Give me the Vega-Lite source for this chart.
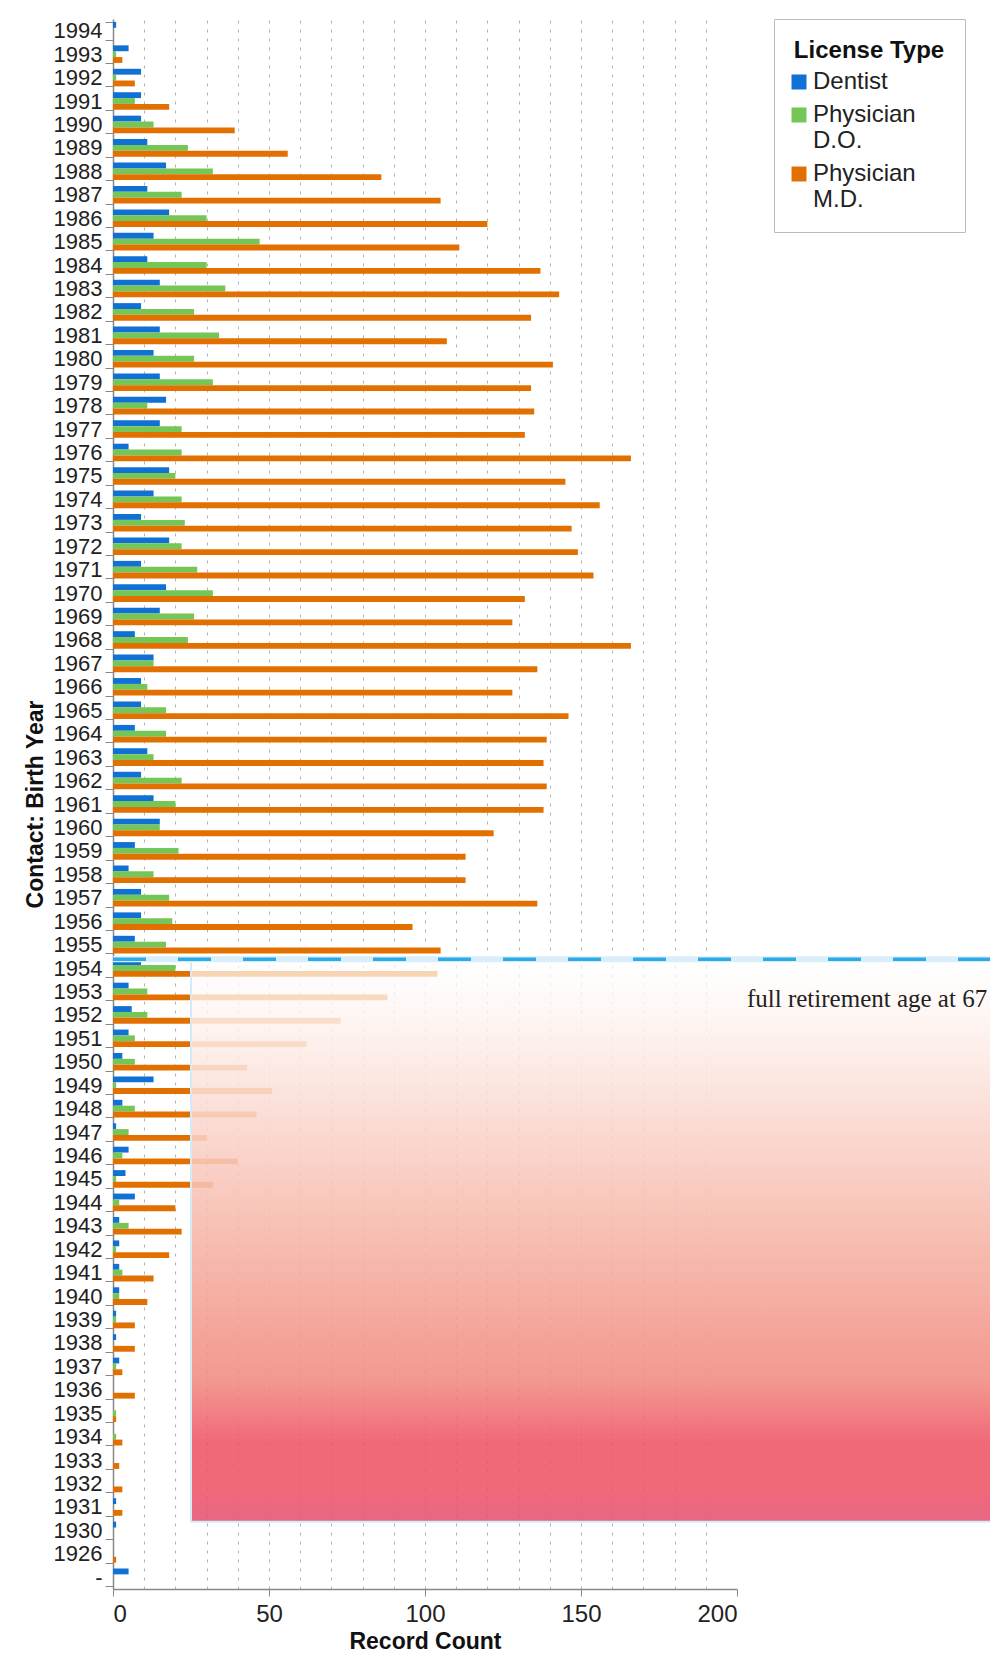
{
  "$schema": "https://vega.github.io/schema/vega-lite/v6.json",
  "autosize": {"type": "none"},
  "width": 624,
  "height": 1570,
  "padding": {"left": 113, "top": 19, "right": 253, "bottom": 73},
  "background": "white",
  "config": {"font": "Liberation Sans", "view": {"stroke": null}},
  "datasets": {
    "counts": [
      {"year":"1994","type":"Dentist","n":1},
      {"year":"1993","type":"Dentist","n":5},{"year":"1993","type":"Physician D.O.","n":1},{"year":"1993","type":"Physician M.D.","n":3},
      {"year":"1992","type":"Dentist","n":9},{"year":"1992","type":"Physician D.O.","n":1},{"year":"1992","type":"Physician M.D.","n":7},
      {"year":"1991","type":"Dentist","n":9},{"year":"1991","type":"Physician D.O.","n":7},{"year":"1991","type":"Physician M.D.","n":18},
      {"year":"1990","type":"Dentist","n":9},{"year":"1990","type":"Physician D.O.","n":13},{"year":"1990","type":"Physician M.D.","n":39},
      {"year":"1989","type":"Dentist","n":11},{"year":"1989","type":"Physician D.O.","n":24},{"year":"1989","type":"Physician M.D.","n":56},
      {"year":"1988","type":"Dentist","n":17},{"year":"1988","type":"Physician D.O.","n":32},{"year":"1988","type":"Physician M.D.","n":86},
      {"year":"1987","type":"Dentist","n":11},{"year":"1987","type":"Physician D.O.","n":22},{"year":"1987","type":"Physician M.D.","n":105},
      {"year":"1986","type":"Dentist","n":18},{"year":"1986","type":"Physician D.O.","n":30},{"year":"1986","type":"Physician M.D.","n":120},
      {"year":"1985","type":"Dentist","n":13},{"year":"1985","type":"Physician D.O.","n":47},{"year":"1985","type":"Physician M.D.","n":111},
      {"year":"1984","type":"Dentist","n":11},{"year":"1984","type":"Physician D.O.","n":30},{"year":"1984","type":"Physician M.D.","n":137},
      {"year":"1983","type":"Dentist","n":15},{"year":"1983","type":"Physician D.O.","n":36},{"year":"1983","type":"Physician M.D.","n":143},
      {"year":"1982","type":"Dentist","n":9},{"year":"1982","type":"Physician D.O.","n":26},{"year":"1982","type":"Physician M.D.","n":134},
      {"year":"1981","type":"Dentist","n":15},{"year":"1981","type":"Physician D.O.","n":34},{"year":"1981","type":"Physician M.D.","n":107},
      {"year":"1980","type":"Dentist","n":13},{"year":"1980","type":"Physician D.O.","n":26},{"year":"1980","type":"Physician M.D.","n":141},
      {"year":"1979","type":"Dentist","n":15},{"year":"1979","type":"Physician D.O.","n":32},{"year":"1979","type":"Physician M.D.","n":134},
      {"year":"1978","type":"Dentist","n":17},{"year":"1978","type":"Physician D.O.","n":11},{"year":"1978","type":"Physician M.D.","n":135},
      {"year":"1977","type":"Dentist","n":15},{"year":"1977","type":"Physician D.O.","n":22},{"year":"1977","type":"Physician M.D.","n":132},
      {"year":"1976","type":"Dentist","n":5},{"year":"1976","type":"Physician D.O.","n":22},{"year":"1976","type":"Physician M.D.","n":166},
      {"year":"1975","type":"Dentist","n":18},{"year":"1975","type":"Physician D.O.","n":20},{"year":"1975","type":"Physician M.D.","n":145},
      {"year":"1974","type":"Dentist","n":13},{"year":"1974","type":"Physician D.O.","n":22},{"year":"1974","type":"Physician M.D.","n":156},
      {"year":"1973","type":"Dentist","n":9},{"year":"1973","type":"Physician D.O.","n":23},{"year":"1973","type":"Physician M.D.","n":147},
      {"year":"1972","type":"Dentist","n":18},{"year":"1972","type":"Physician D.O.","n":22},{"year":"1972","type":"Physician M.D.","n":149},
      {"year":"1971","type":"Dentist","n":9},{"year":"1971","type":"Physician D.O.","n":27},{"year":"1971","type":"Physician M.D.","n":154},
      {"year":"1970","type":"Dentist","n":17},{"year":"1970","type":"Physician D.O.","n":32},{"year":"1970","type":"Physician M.D.","n":132},
      {"year":"1969","type":"Dentist","n":15},{"year":"1969","type":"Physician D.O.","n":26},{"year":"1969","type":"Physician M.D.","n":128},
      {"year":"1968","type":"Dentist","n":7},{"year":"1968","type":"Physician D.O.","n":24},{"year":"1968","type":"Physician M.D.","n":166},
      {"year":"1967","type":"Dentist","n":13},{"year":"1967","type":"Physician D.O.","n":13},{"year":"1967","type":"Physician M.D.","n":136},
      {"year":"1966","type":"Dentist","n":9},{"year":"1966","type":"Physician D.O.","n":11},{"year":"1966","type":"Physician M.D.","n":128},
      {"year":"1965","type":"Dentist","n":9},{"year":"1965","type":"Physician D.O.","n":17},{"year":"1965","type":"Physician M.D.","n":146},
      {"year":"1964","type":"Dentist","n":7},{"year":"1964","type":"Physician D.O.","n":17},{"year":"1964","type":"Physician M.D.","n":139},
      {"year":"1963","type":"Dentist","n":11},{"year":"1963","type":"Physician D.O.","n":13},{"year":"1963","type":"Physician M.D.","n":138},
      {"year":"1962","type":"Dentist","n":9},{"year":"1962","type":"Physician D.O.","n":22},{"year":"1962","type":"Physician M.D.","n":139},
      {"year":"1961","type":"Dentist","n":13},{"year":"1961","type":"Physician D.O.","n":20},{"year":"1961","type":"Physician M.D.","n":138},
      {"year":"1960","type":"Dentist","n":15},{"year":"1960","type":"Physician D.O.","n":15},{"year":"1960","type":"Physician M.D.","n":122},
      {"year":"1959","type":"Dentist","n":7},{"year":"1959","type":"Physician D.O.","n":21},{"year":"1959","type":"Physician M.D.","n":113},
      {"year":"1958","type":"Dentist","n":5},{"year":"1958","type":"Physician D.O.","n":13},{"year":"1958","type":"Physician M.D.","n":113},
      {"year":"1957","type":"Dentist","n":9},{"year":"1957","type":"Physician D.O.","n":18},{"year":"1957","type":"Physician M.D.","n":136},
      {"year":"1956","type":"Dentist","n":9},{"year":"1956","type":"Physician D.O.","n":19},{"year":"1956","type":"Physician M.D.","n":96},
      {"year":"1955","type":"Dentist","n":7},{"year":"1955","type":"Physician D.O.","n":17},{"year":"1955","type":"Physician M.D.","n":105},
      {"year":"1954","type":"Dentist","n":9},{"year":"1954","type":"Physician D.O.","n":20},{"year":"1954","type":"Physician M.D.","n":104},
      {"year":"1953","type":"Dentist","n":5},{"year":"1953","type":"Physician D.O.","n":11},{"year":"1953","type":"Physician M.D.","n":88},
      {"year":"1952","type":"Dentist","n":6},{"year":"1952","type":"Physician D.O.","n":11},{"year":"1952","type":"Physician M.D.","n":73},
      {"year":"1951","type":"Dentist","n":5},{"year":"1951","type":"Physician D.O.","n":7},{"year":"1951","type":"Physician M.D.","n":62},
      {"year":"1950","type":"Dentist","n":3},{"year":"1950","type":"Physician D.O.","n":7},{"year":"1950","type":"Physician M.D.","n":43},
      {"year":"1949","type":"Dentist","n":13},{"year":"1949","type":"Physician D.O.","n":1},{"year":"1949","type":"Physician M.D.","n":51},
      {"year":"1948","type":"Dentist","n":3},{"year":"1948","type":"Physician D.O.","n":7},{"year":"1948","type":"Physician M.D.","n":46},
      {"year":"1947","type":"Dentist","n":1},{"year":"1947","type":"Physician D.O.","n":5},{"year":"1947","type":"Physician M.D.","n":30},
      {"year":"1946","type":"Dentist","n":5},{"year":"1946","type":"Physician D.O.","n":3},{"year":"1946","type":"Physician M.D.","n":40},
      {"year":"1945","type":"Dentist","n":4},{"year":"1945","type":"Physician D.O.","n":1},{"year":"1945","type":"Physician M.D.","n":32},
      {"year":"1944","type":"Dentist","n":7},{"year":"1944","type":"Physician D.O.","n":2},{"year":"1944","type":"Physician M.D.","n":20},
      {"year":"1943","type":"Dentist","n":2},{"year":"1943","type":"Physician D.O.","n":5},{"year":"1943","type":"Physician M.D.","n":22},
      {"year":"1942","type":"Dentist","n":2},{"year":"1942","type":"Physician D.O.","n":1},{"year":"1942","type":"Physician M.D.","n":18},
      {"year":"1941","type":"Dentist","n":2},{"year":"1941","type":"Physician D.O.","n":3},{"year":"1941","type":"Physician M.D.","n":13},
      {"year":"1940","type":"Dentist","n":2},{"year":"1940","type":"Physician D.O.","n":2},{"year":"1940","type":"Physician M.D.","n":11},
      {"year":"1939","type":"Dentist","n":1},{"year":"1939","type":"Physician D.O.","n":1},{"year":"1939","type":"Physician M.D.","n":7},
      {"year":"1938","type":"Dentist","n":1},{"year":"1938","type":"Physician M.D.","n":7},
      {"year":"1937","type":"Dentist","n":2},{"year":"1937","type":"Physician D.O.","n":1},{"year":"1937","type":"Physician M.D.","n":3},
      {"year":"1936","type":"Physician M.D.","n":7},
      {"year":"1935","type":"Physician D.O.","n":1},{"year":"1935","type":"Physician M.D.","n":1},
      {"year":"1934","type":"Physician D.O.","n":1},{"year":"1934","type":"Physician M.D.","n":3},
      {"year":"1933","type":"Physician M.D.","n":2},
      {"year":"1932","type":"Physician M.D.","n":3},
      {"year":"1931","type":"Dentist","n":1},{"year":"1931","type":"Physician M.D.","n":3},
      {"year":"1930","type":"Dentist","n":1},
      {"year":"1926","type":"Physician M.D.","n":1},
      {"year":"-","type":"Dentist","n":5}
    ],
    "zone": [{"year":"1954","yearEnd":"1930","n":25,"n2":282}],
    "line": [{"year":"1954","n":0,"n2":282}],
    "note": [{"year":"1952","n":203.2,"label":"full retirement age at 67"}]
  },
  "layer": [
    {
      "data": {"name": "counts"},
      "mark": {"type": "bar"},
      "encoding": {
        "y": {
          "field": "year", "type": "ordinal",
          "scale": {
            "domain": ["1994","1993","1992","1991","1990","1989","1988","1987","1986","1985","1984","1983","1982","1981","1980","1979","1978","1977","1976","1975","1974","1973","1972","1971","1970","1969","1968","1967","1966","1965","1964","1963","1962","1961","1960","1959","1958","1957","1956","1955","1954","1953","1952","1951","1950","1949","1948","1947","1946","1945","1944","1943","1942","1941","1940","1939","1938","1937","1936","1935","1934","1933","1932","1931","1930","1926","-"],
            "paddingInner": 0.25, "paddingOuter": 0.125
          },
          "axis": {
            "title": "Contact: Birth Year",
            "titleFontSize": 23, "titleFontWeight": "bold", "titleColor": "#111", "titlePadding": 6,
            "labelFontSize": 22, "labelColor": "#222", "labelPadding": 3,
            "tickBand": "extent", "tickSize": 8, "tickColor": "#888", "domainColor": "#888", "domainWidth": 1.5,
            "grid": false
          }
        },
        "yOffset": {
          "field": "type", "type": "nominal",
          "scale": {"domain": ["Dentist","Physician D.O.","Physician M.D."], "paddingInner": 0, "paddingOuter": 0}
        },
        "x": {
          "field": "n", "type": "quantitative",
          "scale": {"domain": [0, 200], "nice": false, "zero": true},
          "axis": {
            "title": "Record Count",
            "titleFontSize": 23, "titleFontWeight": "bold", "titleColor": "#111", "titlePadding": 4,
            "values": [0,10,20,30,40,50,60,70,80,90,100,110,120,130,140,150,160,170,180,190,200],
            "tickCount": 40,
            "labelExpr": "datum.value % 50 == 0 ? datum.label : ''",
            "labelOverlap": false,
            "labelFontSize": 24, "labelColor": "#222", "labelPadding": 6,
            "tickSize": 7,
            "tickColor": {"condition": {"test": "datum.value % 50 == 0", "value": "#888"}, "value": "transparent"},
            "domainColor": "#888", "domainWidth": 1.5,
            "grid": true,
            "gridColor": {"condition": {"test": "datum.value == 0 || datum.value == 200", "value": "transparent"}, "value": "#b4b4b4"},
            "gridDash": [3, 6]
          }
        },
        "color": {
          "field": "type", "type": "nominal",
          "scale": {"domain": ["Dentist","Physician D.O.","Physician M.D."], "range": ["#1170d3","#74c656","#e27000"]},
          "legend": {
            "orient": "none", "legendX": 661, "legendY": 0,
            "title": "License Type",
            "titleFontSize": 24, "titleFontWeight": "bold", "titleColor": "#111", "titleAnchor": "middle", "titlePadding": 7,
            "labelFontSize": 24, "labelColor": "#222", "labelLimit": 300, "labelOffset": 2,
            "labelExpr": "split(datum.label, ' ')",
            "labelBaseline": "middle",
            "symbolType": "square", "symbolSize": 225, "symbolStrokeWidth": 0, "symbolOffset": -35,
            "rowPadding": 9,
            "padding": 20, "strokeColor": "#bbbbbb", "fillColor": "white"
          }
        }
      }
    },
    {
      "data": {"name": "zone"},
      "mark": {
        "type": "rect",
        "fill": {
          "gradient": "linear", "x1": 0, "y1": 0, "x2": 0, "y2": 1,
          "stops": [
            {"offset": 0, "color": "rgba(255,255,255,0.68)"},
            {"offset": 0.12, "color": "rgba(253,242,238,0.86)"},
            {"offset": 0.5, "color": "rgba(246,180,165,0.88)"},
            {"offset": 0.75, "color": "rgba(241,138,128,0.88)"},
            {"offset": 0.86, "color": "rgba(238,84,102,0.88)"},
            {"offset": 0.94, "color": "rgba(238,84,102,0.88)"},
            {"offset": 1, "color": "rgba(230,86,120,0.9)"}
          ]
        },
        "stroke": "#d3eaf8", "strokeWidth": 2
      },
      "encoding": {
        "y": {"field": "year", "type": "ordinal", "bandPosition": 0},
        "y2": {"field": "yearEnd", "bandPosition": 0},
        "x": {"field": "n", "type": "quantitative", "title": "Record Count"},
        "x2": {"field": "n2"}
      }
    },
    {
      "data": {"name": "line"},
      "mark": {"type": "rule", "color": "#d8eefa", "strokeWidth": 6},
      "encoding": {
        "y": {"field": "year", "type": "ordinal", "bandPosition": 0},
        "x": {"field": "n", "type": "quantitative", "title": "Record Count"},
        "x2": {"field": "n2"}
      }
    },
    {
      "data": {"name": "line"},
      "mark": {"type": "rule", "color": "#2aaae6", "strokeWidth": 3.5, "strokeDash": [33, 32]},
      "encoding": {
        "y": {"field": "year", "type": "ordinal", "bandPosition": 0},
        "x": {"field": "n", "type": "quantitative", "title": "Record Count"},
        "x2": {"field": "n2"}
      }
    },
    {
      "data": {"name": "note"},
      "mark": {"type": "text", "font": "Liberation Serif", "fontSize": 25, "color": "#222", "align": "left", "baseline": "alphabetic", "dy": -8},
      "encoding": {
        "y": {"field": "year", "type": "ordinal"},
        "x": {"field": "n", "type": "quantitative", "title": "Record Count"},
        "text": {"field": "label"}
      }
    }
  ]
}
